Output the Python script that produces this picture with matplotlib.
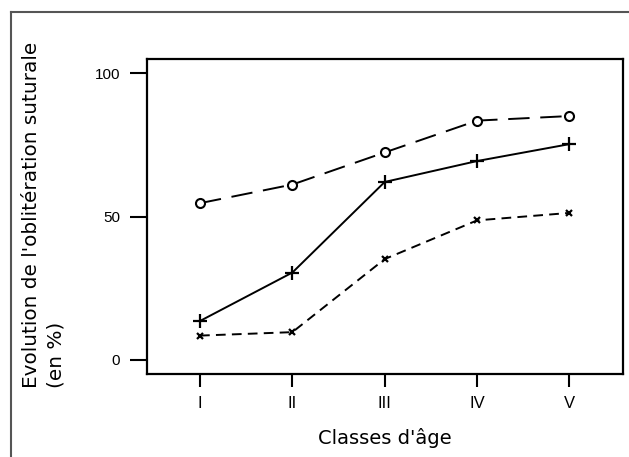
import matplotlib
matplotlib.use("Agg")
import matplotlib.pyplot as plt
from matplotlib.lines import Line2D

plt.rcParams['font.family'] = ['Liberation Sans', 'DejaVu Sans']

classes = ["I", "II", "III", "IV", "V"]
serie_cercle = [54.7, 61.2, 72.4, 83.5, 85.1]
serie_plus = [13.6, 30.5, 62.1, 69.4, 75.3]
serie_croix = [8.5, 9.7, 35.2, 48.7, 51.3]
yticks = [0, 50, 100]

W, H = 629, 457
fig = plt.figure(figsize=(W / 100, H / 100), dpi=100)
ax = fig.add_axes([147 / W, 1 - 374 / H, (623 - 147) / W, (374 - 59) / H])

x = list(range(1, len(classes) + 1))
lw = 1.4
ax.plot(x, serie_cercle, color='black', lw=lw, dashes=(11, 5.5), marker='o',
        ms=6.5, mfc='white', mec='black', mew=1.5)
ax.plot(x, serie_plus, color='black', lw=lw, linestyle='-', marker='+',
        ms=10, mew=1.6)
ax.plot(x, serie_croix, color='black', lw=lw, dashes=(5, 3.2), marker='x',
        ms=5, mew=1.6)

ax.set_xlim(0.426, 5.58)
ax.set_ylim(-4.9, 105)
ax.set_xticks(x)
ax.set_xticklabels(classes)
ax.set_yticks(yticks)
ax.set_yticklabels([str(v) for v in yticks])
for s in ax.spines.values():
    s.set_linewidth(1.6)
ax.tick_params(axis='x', length=9.5, width=1.5, pad=6, labelsize=12)
ax.tick_params(axis='y', length=12.5, width=1.5, pad=7, labelsize=11)

fig.text(32 / W, 1 - 388 / H, "Evolution de l'oblitération suturale", rotation=90,
         ha='center', va='bottom', family=['DejaVu Sans'], fontsize=14.4)
fig.text(56 / W, 1 - 388 / H, "(en %)", rotation=90,
         ha='center', va='bottom', family=['DejaVu Sans'], fontsize=14.4)
fig.text(385 / W, 1 - 438 / H, "Classes d'âge", ha='center', va='center',
         family=['DejaVu Sans'], fontsize=14)

# outer frame
fig.add_artist(Line2D([11 / W, 11 / W], [0, 1 - 12 / H], color='#555555', lw=1.5,
                      transform=fig.transFigure))
fig.add_artist(Line2D([11 / W, 1], [1 - 12 / H, 1 - 12 / H], color='#555555', lw=1.5,
                      transform=fig.transFigure))

fig.savefig("out.png", dpi=100)
